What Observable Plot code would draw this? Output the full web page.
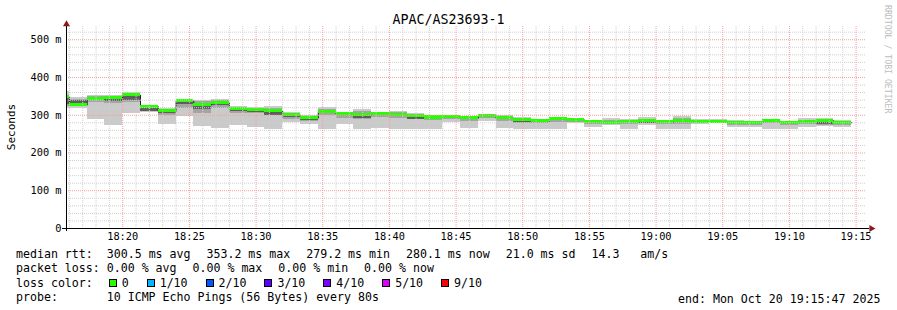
<!DOCTYPE html>
<html><head><meta charset="utf-8">
<script src="https://cdn.jsdelivr.net/npm/d3@7"></script>
<script src="https://cdn.jsdelivr.net/npm/@observablehq/plot@0.6"></script>
<style>
html,body{margin:0;padding:0;background:#fff;}
#wrap{position:relative;width:897px;height:310px;overflow:hidden;background:#fff;font-family:"DejaVu Sans Mono",monospace;color:#000;}
#chart{position:absolute;left:0;top:0;}
#title{position:absolute;left:0;width:897px;top:12px;text-align:center;font-size:13.3px;line-height:16px;}
#ylabel{position:absolute;left:11px;top:127px;transform:translate(-50%,-50%) rotate(-90deg);font-size:11px;white-space:nowrap;}
#credit{position:absolute;left:892px;top:5px;transform-origin:0 0;transform:rotate(90deg);font-size:8.2px;line-height:9px;color:#bdbdbd;white-space:nowrap;}
.leg{position:absolute;left:16px;font-size:11.6px;white-space:pre;line-height:14px;}
.gap{margin-left:2px;}
.box{display:inline-block;width:8px;height:8px;box-sizing:border-box;border:1px solid #000;margin-left:2px;margin-right:-2px;vertical-align:0px;}
</style>
</head>
<body>
<div id="wrap">
  <div id="chart"></div>
  <div id="title"></div>
  <div id="ylabel"></div>
  <div id="credit"></div>
  <div id="legend"></div>
</div>
<script>
// ---- data (ms), one entry per 80 s step, first step starts 18:14:40 ----
const title = "APAC/AS23693-1";
const yAxisLabel = "Seconds";
const stepHi   = [362,346,353,351,359,327,318,340,340,341,324,320,322,308,298,320,308,314,308,309,305,300,299,296,303,299,294,289,294,292,287,291,289,293,287,296,289,289,287,283,288,284,291,292,287];
const stepMidHi= [352,342,350,349,356,326,316,339,336,338,320,318,318,305,296,316,305,310,306,306,302,298,297,294,301,296,291,287,292,290,285,286,287,290,285,291,286,286,284,282,286,283,287,289,284];
const stepCoreHi=[345,340,344,345,352,322,311,337,327,333,316,314,310,301,292,310,302,301,303,301,298,294,295,292,299,292,287,284,289,287,281,281,283,284,282,284,282,281,279,280,284,280,281,285,280];
const stepMedian=[347,327,342,345,353.2,323,310,337,327,332,316,314,310,300,292,309,302,301,303,301,298,294,295,292,299,292,287,284,289,287,281,280,283,284,282,284,282,281,279.2,280,284,280,281,285,280.1];
const stepCoreLo=[328,329,338,337,340,311,304,328,314,325,310,308,300,295,287,304,298,291,298,296,290,289,291,289,296,288,282,281,285,284,278,278,280,278,279,280,279,278,276,277,281,277,277,275,277];
const stepMidLo= [322,322,335,332,335,310,300,318,305,318,305,305,298,290,284,298,292,290,293,292,288,285,288,284,292,283,279,277,280,281,275,276,276,277,276,276,278,278,273,274,277,274,275,274,274];
const stepLo   = [319,318,289,272,305,308,276,296,269,265,272,267,263,282,276,263,276,263,264,263,263,263,282,265,283,265,263,263,263,277,267,273,263,273,263,263,276,277,267,267,263,263,268,270,267];

const yTicks = [0,100,200,300,400,500];
const yTickLabels = ["0","100 m","200 m","300 m","400 m","500 m"];

const statLabels = ["avg","max","min","now"];
const rttStats = ["300.5","353.2","279.2","280.1"];
const rttSd = "21.0";
const rttAmS = "14.3";
const lossStats = ["0.00","0.00","0.00","0.00"];
const lossLevels = ["0","1/10","2/10","3/10","4/10","5/10","9/10"];
const lossColors = ["#26ff00","#00b8ff","#0059ff","#5e00ff","#7e00ff","#dd00ff","#ff0000"];
const probeText = "10 ICMP Echo Pings (56 Bytes) every 80s";
const endText = "end: Mon Oct 20 19:15:47 2025";
const credit = "RRDTOOL / TOBI OETIKER";

// ---- time setup ----
const stepMs = 80000;
const firstStep = Date.UTC(2025,9,20,18,14,40);
const tStart = new Date(Date.UTC(2025,9,20,18,15,47));
const tEnd = new Date(Date.UTC(2025,9,20,19,15,47));

const rows = stepMedian.map((m,i)=>({
  t0: new Date(firstStep + i*stepMs),
  t1: new Date(firstStep + (i+1)*stepMs),
  med: m, hi: stepHi[i], lo: stepLo[i],
  mHi: stepMidHi[i], mLo: stepMidLo[i], cHi: stepCoreHi[i], cLo: stepCoreLo[i]
}));
const lineData = rows.map(r=>({t:r.t0, v:r.med})).concat([{t: rows[rows.length-1].t1, v: rows[rows.length-1].med}]);

const minutes = d3.utcMinute.range(tStart, tEnd);
const majorX = minutes.filter(d=>d.getUTCMinutes()%5===0);
const minorX = minutes.filter(d=>d.getUTCMinutes()%5!==0);
const minorY = d3.range(20, 535, 20).filter(v=>v%100!==0);
const majorY = yTicks.filter(v=>v>0);

const halfBar = 4; // half thickness of the median bar (ms)
const gridMinor = "#cfcfcf", gridMajor = "#f4a0a0", arrowColor = "#8b1a1a";

const chart = Plot.plot({
  width: 897, height: 245,
  marginLeft: 66, marginRight: 31, marginTop: 26, marginBottom: 17,
  x: {type: "utc", domain: [tStart, tEnd], axis: null},
  y: {domain: [0, 535], axis: null},
  style: {fontFamily: "'DejaVu Sans Mono', monospace", fontSize: "10.3px", background: "#fff", color: "#000", overflow: "visible"},
  marks: [
    Plot.rect(rows, {x1:"t0", x2:"t1", y1:"lo", y2:"hi", fill:"#cacaca", clip:true, shapeRendering:"crispEdges"}),
    Plot.rect(rows, {x1:"t0", x2:"t1", y1:"mLo", y2:"mHi", fill:"#a4a4a4", clip:true, shapeRendering:"crispEdges"}),
    Plot.rect(rows, {x1:"t0", x2:"t1", y1:"cLo", y2:"cHi", fill:"#5e5e5e", clip:true, shapeRendering:"crispEdges"}),
    Plot.line(lineData, {x:"t", y:"v", curve:"step-after", stroke:"#202020", strokeWidth:1, clip:true}),
    Plot.rect(rows, {x1:"t0", x2:"t1", y1:d=>d.med-halfBar, y2:d=>d.med+halfBar, fill:lossColors[0], clip:true, shapeRendering:"crispEdges"}),
    Plot.ruleY(minorY, {stroke:gridMinor, strokeDasharray:"1,1"}),
    Plot.ruleX(minorX, {stroke:gridMinor, strokeDasharray:"1,1"}),
    Plot.ruleY(majorY, {stroke:gridMajor, strokeDasharray:"1,1"}),
    Plot.ruleX(majorX, {stroke:gridMajor, strokeDasharray:"1,1"}),
    Plot.ruleY([0], {x1: new Date(+tStart - 18000), x2: new Date(+tEnd + 14000), stroke:"#000"}),
    Plot.ruleX([tStart], {y1: -8, y2: 542, stroke:"#000"}),
    Plot.dot([{x: new Date(+tEnd + 22000), y: 0}], {x:"x", y:"y", symbol:"triangle", rotate:90, r:2.6, fill:arrowColor, stroke:null}),
    Plot.dot([{x: tStart, y: 541}], {x:"x", y:"y", symbol:"triangle", r:2.6, fill:arrowColor, stroke:null}),
    Plot.axisX(majorX, {tickSize:0, tickPadding:4, tickFormat:d3.utcFormat("%H:%M"), label:null}),
    Plot.axisY(yTicks, {tickSize:0, tickPadding:5, tickFormat:d=>yTickLabels[yTicks.indexOf(d)], label:null})
  ]
});
document.getElementById("chart").appendChild(chart);

document.getElementById("title").textContent = title;
document.getElementById("ylabel").textContent = yAxisLabel;
document.getElementById("credit").textContent = credit;

// ---- legend ----
const leg = document.getElementById("legend");
function line(top, html){ const d=document.createElement("div"); d.className="leg"; d.style.top=top+"px"; d.innerHTML=html; leg.appendChild(d); return d; }
function items(arr){ return arr.map((s,i)=> i===0 ? "<span>"+s+"</span>" : '<span class="gap">'+s+"</span>").join("  "); }
line(247, "median rtt:  " + items(rttStats.map((v,i)=>v+" ms "+statLabels[i]).concat([rttSd+" ms sd", rttAmS+"   am/s"])));
line(261, "packet loss: " + items(lossStats.map((v,i)=>v+" % "+statLabels[i])));
line(275.5, "loss color:  " + lossLevels.map((l,i)=>(i?'<span class="gap"></span>':'')+'<span class="box" style="background:'+lossColors[i]+'"></span> '+l).join("  "));
line(289.5, "probe:       " + probeText);
const e = line(291.5, endText); e.style.left = "678px";
</script>
</body></html>
